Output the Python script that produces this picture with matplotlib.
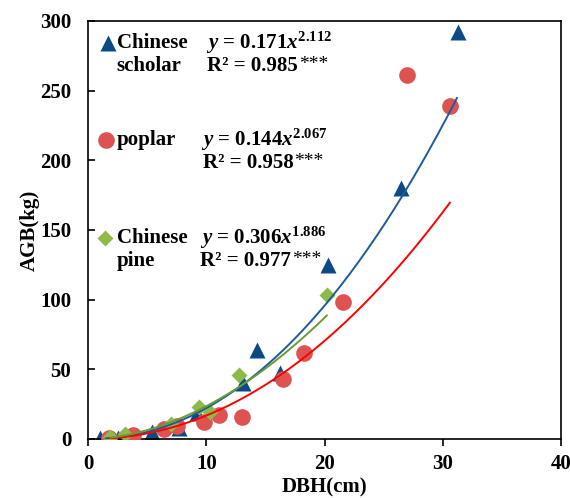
import numpy as np
import matplotlib
matplotlib.use("Agg")
import matplotlib.pyplot as plt

plt.rcParams['font.family'] = ['Liberation Serif', 'DejaVu Serif']
plt.rcParams['font.weight'] = 'bold'
plt.rcParams['mathtext.fontset'] = 'custom'
plt.rcParams['mathtext.rm'] = 'Liberation Serif:bold'
plt.rcParams['mathtext.it'] = 'Liberation Serif:italic:bold'
plt.rcParams['mathtext.bf'] = 'Liberation Serif:bold'

# Chinese scholar (triangles)
scholar_dbh = [1.0, 2.5, 5.4, 7.7, 9.2, 13.1, 14.3, 16.2, 20.3, 26.5, 31.3]
scholar_agb = [0.7, 0.7, 5.0, 8.0, 19.0, 40.0, 64.0, 47.0, 125.0, 180.0, 292.0]
# poplar (circles)
poplar_dbh = [1.8, 3.8, 6.4, 7.5, 9.8, 11.1, 13.0, 16.5, 18.3, 21.6, 27.0, 30.6]
poplar_agb = [1.0, 3.0, 7.0, 9.0, 12.0, 17.0, 16.0, 43.0, 62.0, 98.0, 261.0, 239.0]
# Chinese pine (diamonds)
pine_dbh = [1.9, 3.1, 7.0, 9.4, 10.3, 12.8, 20.2]
pine_agb = [1.4, 3.5, 11.0, 23.0, 19.5, 46.0, 103.0]

# power fits y = a * x^b  (a, b, x from, x to)
fits = {
    'scholar': (0.171, 2.112, 1.5, 31.2),
    'poplar': (0.144, 2.067, 1.8, 30.6),
    'pine': (0.306, 1.886, 1.9, 20.2),
}

c_tri = '#0B4A87'
c_cir = '#DE5352'
c_dia = '#8DBA4A'

fig = plt.figure(figsize=(5.70, 4.98), dpi=100)
ax = fig.add_axes([0.1544, 0.1185, 0.8298, 0.8394])

ax.plot(scholar_dbh, scholar_agb, '^', color=c_tri, ms=11.5, mec='none', zorder=2)
ax.plot(poplar_dbh, poplar_agb, 'o', color=c_cir, ms=12, mec='none', zorder=3)
ax.plot(pine_dbh, pine_agb, 'D', color=c_dia, ms=8, mec='none', zorder=4)

line_cols = {'scholar': '#1D5B9B', 'poplar': '#FF0000', 'pine': '#6A9C35'}
for k, (a, b, x0, x1) in fits.items():
    xx = np.linspace(x0, x1, 200)
    ax.plot(xx, a * xx ** b, color=line_cols[k], lw=1.4, zorder=5)

ax.set_xlim(0, 40)
ax.set_ylim(0, 300)
ax.set_xticks([0, 10, 20, 30, 40])
ax.set_yticks([0, 50, 100, 150, 200, 250, 300])
ax.tick_params(axis='x', direction='out', length=5, width=1.2, labelsize=15, pad=6)
ax.tick_params(axis='y', direction='in', length=5, width=1.2, labelsize=15, pad=12)
for s in ax.spines.values():
    s.set_linewidth(1.2)
ax.set_xlabel('DBH(cm)', fontsize=15, fontweight='bold', labelpad=2)
ax.set_ylabel('AGB(kg)', fontsize=15, fontweight='bold', labelpad=0)

fs = 15
tr = ax.transAxes
entries = [
    ('^', c_tri, 11, 0.042, 0.947, 0.892, ['Chinese', 'scholar'],
     r'$y$ = 0.171$x^{2.112}$', 'R² = 0.985', 0.249, 0.252),
    ('o', c_cir, 12, 0.038, 0.715, 0.660, ['poplar'],
     r'$y$ = 0.144$x^{2.067}$', 'R² = 0.958', 0.239, 0.243),
    ('D', c_dia, 8, 0.036, 0.481, 0.426, ['Chinese', 'pine'],
     r'$y$ = 0.306$x^{1.886}$', 'R² = 0.977', 0.237, 0.237),
]
for m, c, ms, mx, y1, y2, names, eq, r2, ex, rx in entries:
    ax.plot([mx], [y1], m, color=c, ms=ms, mec='none', transform=tr, clip_on=False)
    ax.text(0.061, y1, names[0], transform=tr, fontsize=fs, fontweight='bold', va='center')
    if len(names) > 1:
        ax.text(0.061, y2, names[1], transform=tr, fontsize=fs, fontweight='bold', va='center')
    ax.text(ex, y1, eq, transform=tr, fontsize=fs, fontweight='bold', va='center')
    t = ax.text(rx, y2, r2, transform=tr, fontsize=fs, fontweight='bold', va='center')
    ax.annotate('***', xy=(1, 0.5), xycoords=t, va='center', ha='left',
                fontsize=14, fontweight='normal', xytext=(0.5, 1), textcoords='offset points')

fig.savefig('out.png', dpi=100)
